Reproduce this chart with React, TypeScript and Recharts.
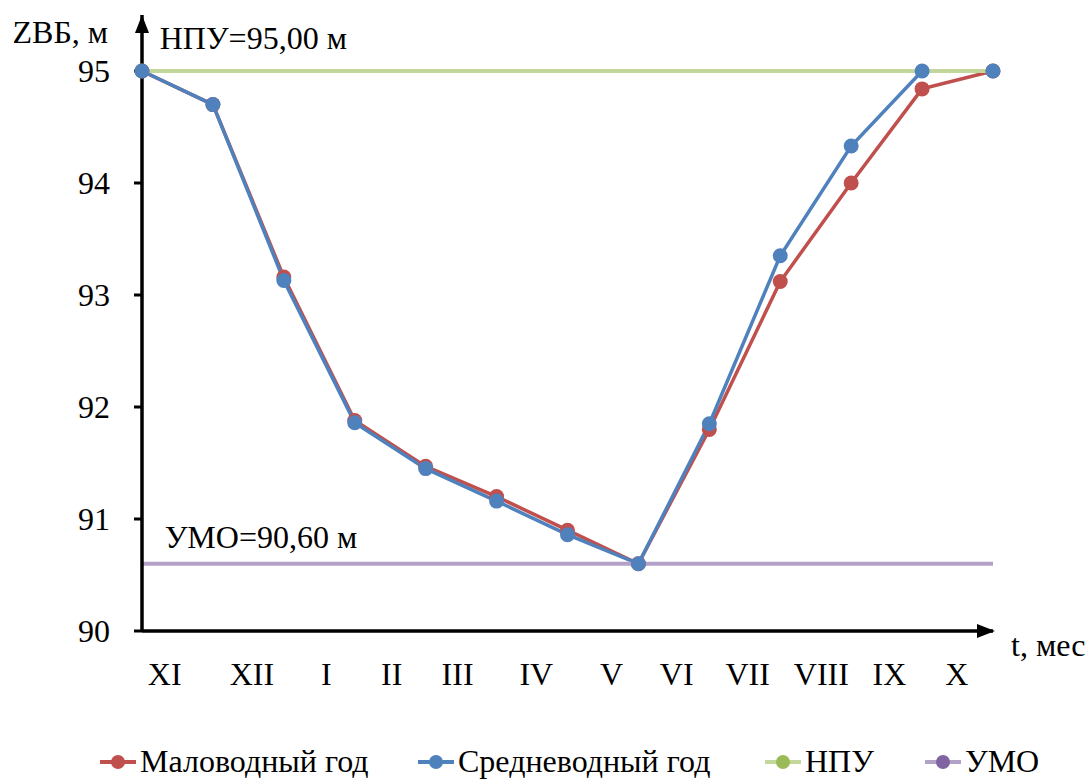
import React from "react";
import {
  LineChart,
  Line,
  XAxis,
  YAxis,
  ReferenceDot,
  Label,
} from "recharts";

// month index along the time axis (tick marks)
const steps = [0, 1, 2, 3, 4, 5, 6, 7, 8, 9, 10, 11, 12];

const lowWater = [95.0, 94.7, 93.16, 91.88, 91.47, 91.2, 90.9, 90.6, 91.8, 93.12, 94.0, 94.84, 95.0];
const avgWater = [95.0, 94.7, 93.13, 91.86, 91.45, 91.16, 90.86, 90.6, 91.85, 93.35, 94.33, 95.0, 95.0];
const npu = 95.0;
const umo = 90.6;

const months = ["XI", "XII", "I", "II", "III", "IV", "V", "VI", "VII", "VIII", "IX", "X"];
// where the month captions sit along the axis (Excel text boxes, not centred)
const monthTickAt = [0.32, 1.55, 2.6, 3.52, 4.45, 5.56, 6.62, 7.54, 8.54, 9.58, 10.54, 11.49];

const yTicks = [90, 91, 92, 93, 94, 95];

const data = steps.map((s, i) => ({
  t: s,
  low: lowWater[i],
  avg: avgWater[i],
  npu: npu,
  umo: umo,
}));

const FONT = "'Times New Roman', 'Liberation Serif', serif";
const FS = 32;

const legendItems = [
  { name: "Маловодный год", line: "#C0504D", dot: "#C0504D", w: 318 },
  { name: "Средневодный год", line: "#4F81BD", dot: "#4F81BD", w: 347 },
  { name: "НПУ", line: "#C3D69B", dot: "#9BBB59", w: 160 },
  { name: "УМО", line: "#B3A2C7", dot: "#8064A2", w: 120 },
];

const UpArrow = ({ cx = 0, cy = 0 }: any) => (
  <polygon points={`${cx},${cy} ${cx - 7},${cy + 18} ${cx + 7},${cy + 18}`} fill="#000" />
);

const RightArrow = ({ cx = 0, cy = 0 }: any) => (
  <polygon points={`${cx + 2},${cy} ${cx - 16},${cy - 7} ${cx - 16},${cy + 7}`} fill="#000" />
);

const YTick = ({ x, y, payload }: any) => (
  <text x={x - 22} y={y} dy="0.355em" textAnchor="end" fill="#000" fontSize={FS} fontFamily={FONT}>
    {payload.value}
  </text>
);

function LegendRow() {
  return (
    <div
      style={{
        position: "absolute",
        left: 100,
        top: 743,
        display: "flex",
        alignItems: "center",
        fontFamily: FONT,
        fontSize: FS,
        color: "#000",
        whiteSpace: "nowrap",
      }}
    >
      {legendItems.map((it) => (
        <div key={it.name} style={{ display: "flex", alignItems: "center", width: it.w }}>
          <svg width={36} height={20} style={{ marginRight: 4 }}>
            <line x1={0} y1={10} x2={36} y2={10} stroke={it.line} strokeWidth={4} />
            <circle cx={18} cy={10} r={7} fill={it.dot} />
          </svg>
          <span>{it.name}</span>
        </div>
      ))}
    </div>
  );
}

export default function App() {
  return (
    <div style={{ position: "absolute", left: 0, top: 0, width: 1090, height: 780, background: "#fff" }}>
      <LineChart
        width={1090}
        height={780}
        data={data}
        margin={{ top: 15, right: 97, left: 0, bottom: 78 }}
        style={{ fontFamily: FONT }}
      >
        <XAxis
          dataKey="t"
          type="number"
          domain={[0, 12]}
          ticks={steps}
          tick={false}
          tickSize={9}
          height={1}
          axisLine={{ stroke: "#000", strokeWidth: 3.5 }}
          tickLine={{ stroke: "#000", strokeWidth: 3.5 }}
        />
        <XAxis
          xAxisId="months"
          dataKey="t"
          type="number"
          domain={[0, 12]}
          ticks={monthTickAt}
          tickFormatter={(_v: number, i: number) => months[i]}
          axisLine={false}
          tickLine={false}
          tickSize={0}
          tickMargin={30}
          interval={0}
          height={70}
          tick={{ fill: "#000", fontSize: FS, fontFamily: FONT }}
        />
        <YAxis
          type="number"
          domain={[90, 95.5]}
          ticks={yTicks}
          width={142}
          tickSize={8}
          allowDataOverflow
          axisLine={{ stroke: "#000", strokeWidth: 3.5 }}
          tickLine={{ stroke: "#000", strokeWidth: 3 }}
          tick={<YTick />}
        />
        <Line
          dataKey="low"
          stroke="#C0504D"
          strokeWidth={3.5}
          dot={{ r: 7.5, fill: "#C0504D", stroke: "#C0504D", strokeWidth: 0 }}
          isAnimationActive={false}
        />
        <Line
          dataKey="avg"
          stroke="#4F81BD"
          strokeWidth={3.5}
          dot={{ r: 7.5, fill: "#4F81BD", stroke: "#4F81BD", strokeWidth: 0 }}
          isAnimationActive={false}
        />
        <Line dataKey="npu" stroke="#C3D69B" strokeWidth={4} dot={false} isAnimationActive={false} />
        <Line dataKey="umo" stroke="#B3A2C7" strokeWidth={4} dot={false} isAnimationActive={false} />

        <ReferenceDot x={0} y={95.5} ifOverflow="visible" shape={<UpArrow />} />
        <ReferenceDot x={12} y={90} ifOverflow="visible" shape={<RightArrow />} />

        <ReferenceDot x={0} y={95.5} ifOverflow="visible" r={0}>
          <Label value="ZВБ, м" position="left" offset={34} dy={17} fill="#000" fontSize={FS} fontFamily={FONT} />
        </ReferenceDot>
        <ReferenceDot x={0.25} y={95} ifOverflow="visible" r={0}>
          <Label value="НПУ=95,00 м" position="insideLeft" offset={0} dy={-33} fill="#000" fontSize={FS} fontFamily={FONT} />
        </ReferenceDot>
        <ReferenceDot x={0.32} y={90.6} ifOverflow="visible" r={0}>
          <Label value="УМО=90,60 м" position="insideLeft" offset={0} dy={-27} fill="#000" fontSize={FS} fontFamily={FONT} />
        </ReferenceDot>
        <ReferenceDot x={12} y={90} ifOverflow="visible" r={0}>
          <Label value="t, мес" position="right" offset={18} dy={14} fill="#000" fontSize={FS} fontFamily={FONT} />
        </ReferenceDot>
      </LineChart>
      <LegendRow />
    </div>
  );
}
